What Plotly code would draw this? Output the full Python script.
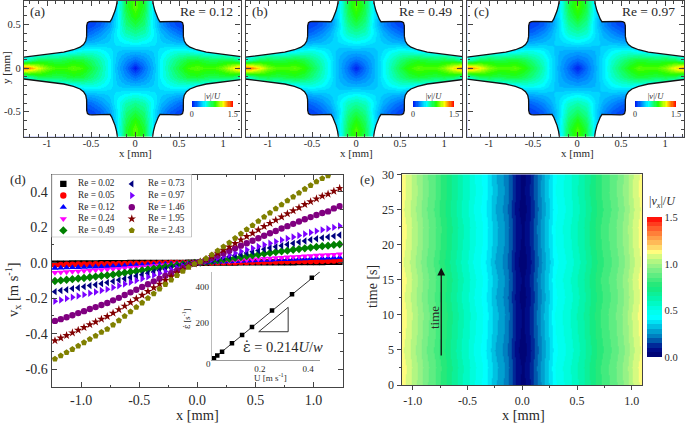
import plotly.graph_objects as go
from plotly.colors import sample_colorscale

W, H = 685, 423
SERIF = "Liberation Serif"
INK = "#2a2a2a"
AXIS = "#444444"

grid_x = [0, .1, .2, .3, .4, .5, .6, .7, .8, .9, 1.0, 1.1, 1.2, 1.3]
grid_y = [0, .1, .2, .3, .4, .5, .6, .7, .8]
field_a = [
    [.02, .19, .33, .48, .63, .76, .88, .92, .88, .88, .96, 1.12, 1.32, 1.40],
    [.19, .25, .35, .48, .59, .68, .76, .78, .74, .72, .74, .72, .60, .50],
    [.34, .35, .38, .44, .49, .52, .50, .46, .44, .42, .40, .38, .36, .34],
    [.51, .48, .44, .38, .35, .32, .30, .26, .26, .26, .26, .26, .26, .26],
    [.63, .59, .47, .34, .26, .19, .15, .10, .10, .10, .10, .10, .10, .10],
    [.74, .66, .45, .27, .16, .10, .06, .03, .03, .03, .03, .03, .03, .03],
    [.85, .72, .44, .25, .12, .07, .03, .03, .03, .03, .03, .03, .03, .03],
    [.92, .76, .44, .25, .12, .07, .03, .03, .03, .03, .03, .03, .03, .03],
    [.90, .76, .42, .25, .12, .07, .03, .03, .03, .03, .03, .03, .03, .03],
]
field_b = [
    [.03, .19, .32, .46, .61, .74, .86, .92, .90, .90, .98, 1.15, 1.34, 1.42],
    [.19, .24, .33, .46, .57, .66, .74, .78, .75, .73, .75, .73, .60, .50],
    [.32, .33, .35, .42, .48, .51, .50, .46, .44, .42, .40, .38, .36, .34],
    [.49, .46, .42, .37, .33, .31, .29, .26, .26, .26, .26, .26, .26, .26],
    [.61, .57, .45, .32, .24, .18, .15, .10, .10, .10, .10, .10, .10, .10],
    [.72, .64, .43, .25, .15, .10, .06, .03, .03, .03, .03, .03, .03, .03],
    [.83, .70, .44, .25, .12, .07, .03, .03, .03, .03, .03, .03, .03, .03],
    [.90, .74, .44, .25, .12, .07, .03, .03, .03, .03, .03, .03, .03, .03],
    [.88, .74, .42, .25, .12, .07, .03, .03, .03, .03, .03, .03, .03, .03],
]
field_c = [
    [.03, .18, .30, .44, .59, .72, .84, .92, .90, .90, .98, 1.14, 1.30, 1.36],
    [.18, .23, .31, .44, .55, .64, .72, .77, .75, .73, .75, .73, .60, .50],
    [.30, .31, .33, .40, .47, .50, .50, .46, .44, .42, .40, .38, .36, .34],
    [.47, .44, .40, .36, .33, .31, .29, .26, .26, .26, .26, .26, .26, .26],
    [.59, .55, .43, .31, .24, .18, .15, .10, .10, .10, .10, .10, .10, .10],
    [.70, .62, .42, .25, .15, .10, .06, .03, .03, .03, .03, .03, .03, .03],
    [.82, .69, .44, .25, .12, .07, .03, .03, .03, .03, .03, .03, .03, .03],
    [.90, .74, .44, .25, .12, .07, .03, .03, .03, .03, .03, .03, .03, .03],
    [.88, .74, .42, .25, .12, .07, .03, .03, .03, .03, .03, .03, .03, .03],
]
wall_x = [1.3, 1.19, 1.0, .81, .70, .625, .585, .56, .55, .549, .54, .52, .49, .30, .284, .265, .246, .227, .21, .20, .195]
wall_y = [.12, .133, .155, .182, .21, .239, .27, .31, .36, .485, .52, .532, .535, .535, .53, .56, .598, .655, .72, .77, .82]
re_labels_top = ["Re = 0.12", "Re = 0.49", "Re = 0.97"]

# panel d
d_x = [-1.225, -1.175, -1.125, -1.075, -1.025, -.975, -.925, -.875, -.825, -.775,
       -.725, -.675, -.625, -.575, -.525, -.475, -.425, -.375, -.325, -.275,
       -.225, -.175, -.125, -.075, -.025, .025, .075, .125, .175, .225,
       .275, .325, .375, .425, .475, .525, .575, .625, .675, .725,
       .775, .825, .875, .925, .975, 1.025, 1.075, 1.125, 1.175, 1.225]
v_002 = [-.005, -.005, -.005, -.004, -.004, -.004, -.004, -.004, -.003, -.003, -.003, -.003, -.003, -.002, -.002, -.002, -.002, -.002, -.001, -.001, -.001, -.001, -.001, 0, 0,
         0, 0, .001, .001, .001, .001, .001, .002, .002, .002, .002, .002, .003, .003, .003, .003, .003, .004, .004, .004, .004, .004, .005, .005, .005]
v_005 = [-.012, -.012, -.011, -.011, -.010, -.010, -.010, -.009, -.009, -.008, -.008, -.007, -.007, -.006, -.006, -.005, -.004, -.004, -.003, -.003, -.002, -.002, -.001, -.001, 0,
         0, .001, .001, .002, .002, .003, .003, .004, .004, .005, .006, .006, .007, .007, .008, .008, .009, .009, .010, .010, .010, .011, .011, .012, .012]
v_012 = [-.030, -.029, -.028, -.027, -.026, -.025, -.024, -.023, -.022, -.021, -.019, -.018, -.017, -.015, -.014, -.012, -.011, -.010, -.008, -.007, -.005, -.004, -.003, -.001, 0,
         0, .001, .002, .004, .005, .006, .008, .009, .010, .012, .013, .014, .015, .017, .018, .019, .020, .022, .023, .024, .025, .026, .027, .029, .030]
v_024 = [-.056, -.054, -.052, -.050, -.048, -.046, -.044, -.042, -.040, -.038, -.036, -.034, -.031, -.028, -.026, -.023, -.021, -.018, -.015, -.013, -.010, -.007, -.005, -.003, -.001,
         .001, .002, .004, .006, .008, .010, .012, .015, .017, .019, .021, .023, .025, .027, .029, .031, .033, .035, .037, .039, .041, .043, .044, .046, .048]
v_049 = [-.103, -.100, -.096, -.093, -.089, -.086, -.082, -.078, -.074, -.071, -.067, -.062, -.057, -.052, -.048, -.043, -.038, -.033, -.028, -.023, -.018, -.014, -.009, -.005, -.001,
         .001, .005, .009, .013, .018, .022, .027, .032, .037, .041, .046, .051, .055, .060, .064, .068, .073, .077, .081, .085, .089, .093, .096, .100, .104]
v_073 = [-.163, -.157, -.152, -.146, -.141, -.135, -.129, -.124, -.118, -.112, -.105, -.098, -.090, -.083, -.075, -.068, -.060, -.052, -.044, -.037, -.029, -.022, -.014, -.008, -.002,
         .002, .007, .013, .020, .027, .033, .041, .048, .055, .062, .069, .076, .083, .090, .096, .103, .109, .116, .122, .129, .135, .140, .145, .150, .156]
v_097 = [-.217, -.210, -.202, -.195, -.188, -.180, -.172, -.165, -.157, -.150, -.140, -.130, -.120, -.110, -.100, -.090, -.080, -.070, -.059, -.049, -.039, -.029, -.019, -.010, -.003,
         .002, .009, .018, .027, .035, .044, .054, .064, .073, .082, .091, .101, .110, .119, .128, .136, .145, .153, .162, .170, .178, .185, .191, .199, .207]
v_146 = [-.328, -.318, -.307, -.296, -.284, -.273, -.261, -.250, -.238, -.227, -.212, -.198, -.182, -.167, -.152, -.137, -.121, -.105, -.090, -.074, -.059, -.044, -.029, -.015, -.004,
         .004, .014, .027, .040, .053, .067, .081, .096, .110, .124, .138, .152, .166, .179, .193, .206, .219, .232, .245, .257, .269, .280, .289, .306, .318]
v_195 = [-.439, -.424, -.410, -.395, -.380, -.365, -.349, -.334, -.318, -.303, -.284, -.264, -.244, -.224, -.203, -.183, -.162, -.141, -.120, -.099, -.079, -.058, -.039, -.020, -.006,
         .005, .019, .036, .054, .071, .089, .109, .129, .148, .166, .185, .204, .222, .240, .258, .276, .293, .310, .328, .344, .360, .375, .387, .403, .419]
v_243 = [-.542, -.524, -.506, -.488, -.469, -.450, -.431, -.412, -.392, -.374, -.350, -.326, -.301, -.276, -.251, -.226, -.200, -.174, -.148, -.122, -.097, -.072, -.048, -.025, -.007,
         .006, .024, .045, .068, .090, .113, .138, .163, .187, .210, .234, .258, .281, .304, .327, .349, .371, .393, .415, .436, .456, .475, .490, .510, .530]
d_series = [v_002, v_005, v_012, v_024, v_049, v_073, v_097, v_146, v_195, v_243]
d_names = ["Re = 0.02", "Re = 0.05", "Re = 0.12", "Re = 0.24", "Re = 0.49",
           "Re = 0.73", "Re = 0.97", "Re = 1.46", "Re = 1.95", "Re = 2.43"]
d_symbols = ["square", "circle", "triangle-up", "triangle-down", "diamond",
             "triangle-left", "triangle-right", "circle", "star", "pentagon"]
d_colors = ["#000000", "#ff0000", "#0000ff", "#ff00ff", "#008000",
            "#000080", "#7a00ff", "#800080", "#800000", "#808000"]

# inset of d
inset_u = [.0095, .023, .043, .084, .126, .167, .25, .333, .415]
inset_rate = [9, 24, 45, 91, 136, 180, 269, 358, 448]
fit_u = [0, .449]
fit_rate = [0, 481]
slope_u = [.195, .317, .317, .195]
slope_rate = [154, 154, 287, 154]

# panel e
e_x = [-1.10, -1.05, -1.00, -.95, -.90, -.85, -.80, -.75, -.70, -.65, -.60, -.55, -.50, -.45, -.40,
       -.35, -.30, -.25, -.20, -.15, -.10, -.05, 0, .05, .10, .15, .20, .25, .30, .35,
       .40, .45, .50, .55, .60, .65, .70, .75, .80, .85, .90, .95, 1.00, 1.05, 1.10]
e_profile = [1.12, 1.08, 1.03, .98, .93, .89, .85, .80, .75, .70, .65, .60, .56, .51, .47,
             .43, .37, .31, .27, .23, .15, .07, .03, .07, .15, .22, .29, .36, .44, .48,
             .51, .55, .59, .63, .68, .73, .78, .82, .85, .89, .93, .98, 1.04, 1.09, 1.13]
e_time = [0, 2.5, 5, 7.5, 10, 12.5, 15, 17.5, 20, 22.5, 25, 27.5, 30]
e_drift = [0, .01, -.01, .005, .012, -.005, .01, -.012, .005, .01, -.008, .006, 0]


def stepped(anchors, n=30):
    cols = sample_colorscale(anchors, [(i + .5) / n for i in range(n)])
    scale = []
    for i, c in enumerate(cols):
        scale += [[i / n, c], [(i + 1) / n, c]]
    return scale


def rel(z):
    return z / 1.5


rainbow = stepped([[rel(0), "#0010f0"], [rel(.22), "#0080ff"], [rel(.48), "#00ffff"],
                   [rel(.84), "#20ff00"], [rel(1.14), "#ffff00"], [rel(1.32), "#ff8000"],
                   [rel(1.5), "#ff0000"]], 36)
time_scale = stepped([[rel(0), "#00006e"], [rel(.1), "#001090"], [rel(.15), "#0040a0"],
                      [rel(.2), "#0070b8"], [rel(.25), "#0090c8"], [rel(.3), "#00b0d8"],
                      [rel(.36), "#00d8f0"], [rel(.42), "#00ffff"],
                      [rel(.5), "#00ffe8"], [rel(.6), "#00f8b8"], [rel(.75), "#18e878"],
                      [rel(.95), "#88f088"], [rel(1.05), "#c0f880"], [rel(1.12), "#ffff80"],
                      [rel(1.2), "#ffc860"], [rel(1.3), "#ff9040"], [rel(1.42), "#ff4020"],
                      [rel(1.5), "#ff0000"]], 30)


def dom_x(left, right):
    return [left / W, right / W]


def dom_y(top, bottom):
    return [1 - bottom / H, 1 - top / H]


def note(text, px, py, size=13, angle=0, color=INK, anchor="center"):
    return dict(text=text, x=px / W, y=1 - py / H, xref="paper", yref="paper",
                showarrow=False, textangle=angle, xanchor=anchor, yanchor="middle",
                font=dict(family=SERIF, size=size, color=color))


def axis(dom, rng, vals, labels, size, minor=None, ticks="inside", length=5, **kw):
    a = dict(domain=dom, range=rng, tickmode="array", tickvals=vals, ticktext=labels,
             ticks=ticks, ticklen=length, tickwidth=1, tickcolor=AXIS, showline=True,
             linecolor=AXIS, linewidth=1.4, mirror="ticks", showgrid=False, zeroline=False,
             fixedrange=True, tickfont=dict(family=SERIF, size=size, color=INK))
    if minor:
        a["minor"] = dict(dtick=minor, ticks=ticks, ticklen=length / 2, tickwidth=1, tickcolor=AXIS)
    a.update(kw)
    return a


fig = go.Figure()
layout = {}
notes = []

mirror_x = [-v for v in grid_x[:0:-1]] + grid_x
mirror_y = [-v for v in grid_y[:0:-1]] + grid_y
panels = [(24, 240.5, 135, field_a, "(a)", 37, 206, 191.7),
          (245.7, 462.3, 356, field_b, "(b)", 260, 426, 413),
          (467.3, 684, 577, field_c, "(c)", 481, 648, 635)]
for i, (left, right, mid, field, tag, tag_x, re_x, bar_x) in enumerate(panels):
    n = i + 1
    xa, ya = f"x{n}", f"y{n}"
    rows = [r[:0:-1] + r for r in field]
    z = rows[:0:-1] + rows
    fig.add_trace(go.Heatmap(
        x=mirror_x, y=mirror_y, z=z, xaxis=xa, yaxis=ya, zsmooth="best", zmin=0, zmax=1.5,
        colorscale=rainbow, hoverinfo="skip",
        colorbar=dict(orientation="h", lenmode="pixels", len=41, thicknessmode="pixels", thickness=6,
                      x=bar_x / W, xanchor="left", y=1 - 115.5 / H, yanchor="bottom", xpad=0, ypad=0,
                      outlinewidth=0, ticks="", tickmode="array", tickvals=[0, 1.5], ticktext=["0", "1.5"],
                      tickfont=dict(family=SERIF, size=8, color=INK),
                      title=dict(text="|<i>v</i>|/<i>U</i>", side="top",
                                 font=dict(family=SERIF, size=8.5, color=INK)))))
    for sx in (1, -1):
        for sy in (1, -1):
            fig.add_trace(go.Scatter(
                x=[sx * v for v in wall_x] + [sx * 1.3], y=[sy * v for v in wall_y] + [sy * .82],
                xaxis=xa, yaxis=ya, mode="lines", fill="toself", fillcolor="white",
                line=dict(color="#111111", width=1.3), hoverinfo="skip", showlegend=False))
    span = (right - left) / 88
    lo = (left - mid) / 88
    layout[f"xaxis{n}"] = axis(dom_x(left, right), [lo, lo + span], [-1, -.5, 0, .5, 1],
                               ["-1", "-0.5", "0", "0.5", "1"], 10.5, minor=.1, anchor=ya,
                               ticklabelstandoff=-4)
    layout[f"yaxis{n}"] = axis(dom_y(.8, 136.7), [-.785, .77], [-.5, 0, .5], ["-0.5", "0", "0.5"],
                               10.5, minor=.1, anchor=xa, showticklabels=(i == 0))
    notes.append(note(tag, tag_x, 11, 13.5))
    notes.append(note(re_labels_top[i], re_x, 11, 13.5))
    notes.append(note("x [mm]", mid, 153, 11))
notes.append(note("y [mm]", 6, 68, 11, -90))

for vals, name, sym, col in zip(d_series, d_names, d_symbols, d_colors):
    fig.add_trace(go.Scatter(x=d_x, y=vals, xaxis="x4", yaxis="y4", mode="markers", name=name,
                             marker=dict(symbol=sym, color=col, size=6.4, line=dict(width=0)),
                             hoverinfo="skip", showlegend=False))
layout["xaxis4"] = axis(dom_x(51.7, 342.7), [-1.253, 1.251], [-1, -.5, 0, .5, 1],
                        ["-1.0", "-0.5", "0.0", "0.5", "1.0"], 14, minor=.25, anchor="y4")
layout["yaxis4"] = axis(dom_y(174.5, 387.3), [-.702, .497], [-.6, -.4, -.2, 0, .2, .4],
                        ["-0.6", "-0.4", "-0.2", "0.0", "0.2", "0.4"], 14, minor=.1, anchor="x4")
notes.append(note("(d)", 18, 179, 13.5))
notes.append(note("v<sub>x</sub> [m s<sup>-1</sup>]", 13, 290, 14.5, -90))
notes.append(note("x [mm]", 197, 415, 14.4))

# legend box of d, on its own unit axes
legend_col = [.083, .083, .083, .083, .083, .572, .572, .572, .572, .572]
legend_row = [.85, .665, .48, .295, .11, .85, .665, .48, .295, .11]
legend_text_px = [76, 76, 76, 76, 76, 146, 146, 146, 146, 146]
legend_text_py = [183.3, 195, 206.7, 218.3, 230, 183.3, 195, 206.7, 218.3, 230]
fig.add_trace(go.Scatter(x=[0, 1, 1, 0, 0], y=[0, 0, 1, 1, 0], xaxis="x6", yaxis="y6", mode="lines",
                         fill="toself", fillcolor="white", line=dict(color="#999999", width=1),
                         hoverinfo="skip", showlegend=False))
fig.add_trace(go.Scatter(x=legend_col, y=legend_row, xaxis="x6", yaxis="y6", mode="markers",
                         marker=dict(symbol=d_symbols, color=d_colors, size=6.4, line=dict(width=0)),
                         hoverinfo="skip", showlegend=False))
for label, px, py in zip(d_names, legend_text_px, legend_text_py):
    notes.append(note(label, px, py, 9.3, anchor="left"))
for name, dom in (("xaxis6", dom_x(51.7, 191.7)), ("yaxis6", dom_y(174.5, 237.3))):
    layout[name] = dict(domain=dom, range=[0, 1], visible=False, fixedrange=True,
                        anchor="y6" if name == "xaxis6" else "x6")

# inset
fig.add_trace(go.Scatter(x=fit_u, y=fit_rate, xaxis="x7", yaxis="y7", mode="lines",
                         line=dict(color="#333333", width=1), hoverinfo="skip", showlegend=False))
fig.add_trace(go.Scatter(x=slope_u, y=slope_rate, xaxis="x7", yaxis="y7", mode="lines",
                         line=dict(color="#333333", width=1), hoverinfo="skip", showlegend=False))
fig.add_trace(go.Scatter(x=inset_u, y=inset_rate, xaxis="x7", yaxis="y7", mode="markers",
                         marker=dict(symbol="square", color="black", size=4.5),
                         hoverinfo="skip", showlegend=False))
layout["xaxis7"] = dict(domain=dom_x(211.7, 320), range=[0, .449], tickmode="array", tickvals=[.2, .4],
                        ticktext=["0.2", "0.4"], ticks="", showline=True, linecolor="#999999", linewidth=1,
                        showgrid=False, zeroline=False, fixedrange=True, anchor="y7",
                        tickfont=dict(family=SERIF, size=9, color=INK))
layout["yaxis7"] = dict(domain=dom_y(271.7, 360), range=[0, 481], tickmode="array", tickvals=[200, 400],
                        ticktext=["200", "400"], ticks="", showline=True, linecolor="#bbbbbb", linewidth=1,
                        showgrid=False, zeroline=False, fixedrange=True, anchor="x7",
                        tickfont=dict(family=SERIF, size=9, color=INK))
notes.append(note("0", 208, 364, 9))
notes.append(note("<span style=\"font-family:'DejaVu Serif'\">\u03b5\u0307</span> = 0.214<i>U</i>/<i>w</i>", 283, 347, 14.5))
notes.append(note("<span style=\"font-family:'DejaVu Serif'\">\u03b5\u0307</span> [s<sup>-1</sup>]", 186, 319, 8.5, -90))
notes.append(note("U [m s<sup>-1</sup>]", 270, 376.5, 9))

# panel e
fig.add_trace(go.Heatmap(
    x=e_x, y=e_time, z=[[v + d for v in e_profile] for d in e_drift], xaxis="x5", yaxis="y5",
    zsmooth="best", zmin=0, zmax=1.5, colorscale=time_scale, hoverinfo="skip",
    colorbar=dict(lenmode="pixels", len=140, thicknessmode="pixels", thickness=15.4,
                  x=647.3 / W, xanchor="left", y=1 - 217.3 / H, yanchor="top", xpad=0, ypad=0,
                  outlinewidth=0, ticks="", tickmode="array", tickvals=[0, .5, 1, 1.5],
                  ticktext=["0.0", "0.5", "1.0", "1.5"],
                  tickfont=dict(family=SERIF, size=10.5, color=INK))))
layout["xaxis5"] = axis(dom_x(401.7, 642.3), [-1.101, 1.096], [-1, -.5, 0, .5, 1],
                        ["-1.0", "-0.5", "0.0", "0.5", "1.0"], 12, minor=.25, ticks="outside",
                        length=4, anchor="y5", mirror=True)
layout["yaxis5"] = axis(dom_y(174.3, 385), [0, 30], [0, 5, 10, 15, 20, 25, 30],
                        ["0", "5", "10", "15", "20", "25", "30"], 12, minor=2.5, ticks="outside",
                        length=4, anchor="x5", mirror=True)
notes.append(note("(e)", 367, 179, 13))
notes.append(note("time [s]", 372, 287, 14, -90))
notes.append(note("x [mm]", 523, 415, 14.4))
notes.append(note("time", 434, 318, 13, -90))
notes.append(note("|<i>v<sub>x</sub></i>|/<i>U</i>", 662, 202, 12))
notes.append(dict(x=-.74, y=16.7, ax=-.74, ay=4, xref="x5", yref="y5", axref="x5", ayref="y5", text="",
                  showarrow=True, arrowhead=2, arrowsize=1.2, arrowwidth=1.3, arrowcolor="#111111"))

fig.update_layout(width=W, height=H, margin=dict(l=0, r=0, t=0, b=0, autoexpand=False), autosize=False,
                  paper_bgcolor="white", plot_bgcolor="white", showlegend=False,
                  annotations=notes, **layout)
fig.write_html("out.html", config=dict(displayModeBar=False), post_script="document.body.style.margin='0';")
